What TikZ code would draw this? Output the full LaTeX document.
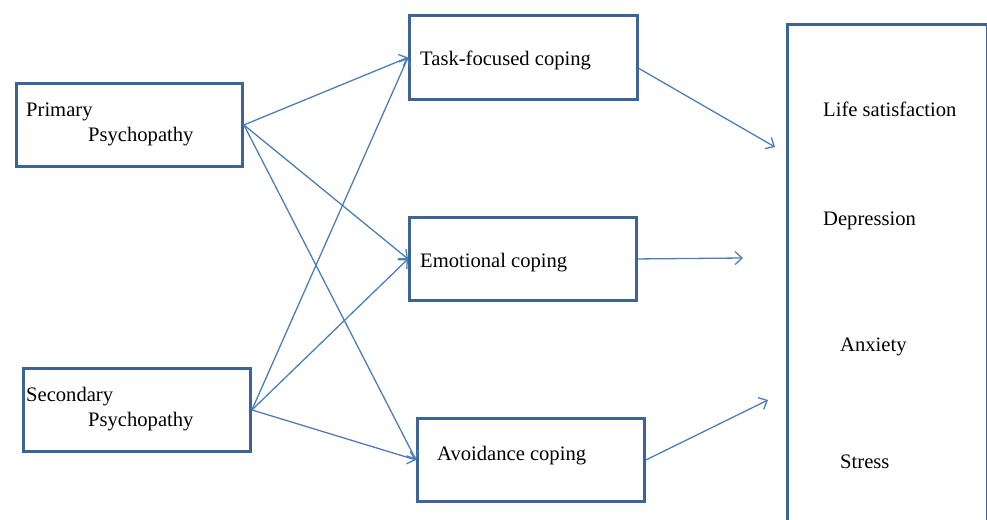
\documentclass[tikz,border=0pt]{standalone}
\usepackage{fontspec}
\setmainfont{Liberation Serif}
\usetikzlibrary{arrows.meta,calc}
\definecolor{boxblue}{RGB}{60,100,150}
\definecolor{arrowblue}{RGB}{74,126,190}
\begin{document}
\begin{tikzpicture}[x=1pt,y=-1pt,
  box/.style={draw=boxblue,line width=2.9pt,anchor=north west,inner sep=0pt,fill=white},
  lbl/.style={anchor=base west,inner sep=0pt,font=\fontsize{20.6}{24}\selectfont},
  conn/.style={draw=arrowblue,line width=1.3pt,-{Straight Barb[length=7pt,width=13pt,line width=1.3pt]}}]
\useasboundingbox (0,0) rectangle (987,519);
\clip (0,0) rectangle (987,519);
% boxes
\node[box,minimum width=226pt,minimum height=83pt] (prim) at (15,82) {};
\node[box,minimum width=227pt,minimum height=83pt] (sec) at (22,367) {};
\node[box,minimum width=228pt,minimum height=84pt] (task) at (408,14) {};
\node[box,minimum width=227pt,minimum height=83pt] (emo) at (408,216) {};
\node[box,minimum width=227pt,minimum height=83pt] (avoid) at (416,417) {};
\node[box,minimum width=200pt,minimum height=530pt] (out) at (786,23) {};
% labels
\node[lbl] (primA) at (26,116.5) {Primary};
\node[lbl] (primB) at (88,141) {Psychopathy};
\node[lbl] (secA) at (26,401) {Secondary};
\node[lbl] (secB) at (88,426) {Psychopathy};
\node[lbl] (taskT) at (420,66) {Task-focused coping};
\node[lbl] (emoT) at (420,267) {Emotional coping};
\node[lbl] (avoidT) at (437,460) {Avoidance coping};
\node[lbl] (lifeT) at (823,116) {Life satisfaction};
\node[lbl] (depT) at (823,225) {Depression};
\node[lbl] (anxT) at (840,351) {Anxiety};
\node[lbl] (strT) at (840,468) {Stress};
% free connector ends
\coordinate (r1) at (775,147);
\coordinate (r2) at (743,258);
\coordinate (r3) at (768,400);
% connectors
\draw[conn] (prim.east) -- (task.west);
\draw[conn] (prim.east) -- (emo.west);
\draw[conn] (prim.east) -- (avoid.west);
\draw[conn] (sec.east) -- (task.west);
\draw[conn] (sec.east) -- (emo.west);
\draw[conn] (sec.east) -- (avoid.west);
\draw[conn] ([yshift=-11pt]task.east) -- (r1);
\draw[conn] (emo.east) -- (r2);
\draw[conn] (avoid.east) -- (r3);
\end{tikzpicture}
\end{document}
